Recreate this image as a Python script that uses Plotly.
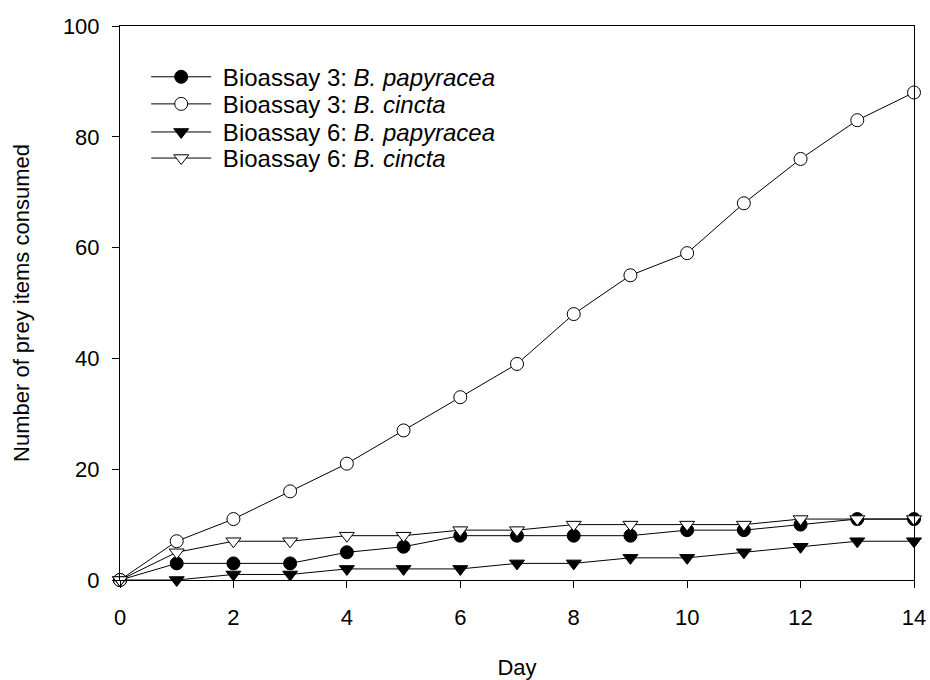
import plotly.graph_objects as go

days = list(range(15))
b3_papyracea = [0, 3, 3, 3, 5, 6, 8, 8, 8, 8, 9, 9, 10, 11, 11]
b3_cincta = [0, 7, 11, 16, 21, 27, 33, 39, 48, 55, 59, 68, 76, 83, 88]
b6_papyracea = [0, 0, 1, 1, 2, 2, 2, 3, 3, 4, 4, 5, 6, 7, 7]
b6_cincta = [0, 5, 7, 7, 8, 8, 9, 9, 10, 10, 10, 10, 11, 11, 11]

series = [
    ("Bioassay 3: <i>B. papyracea</i>", b3_papyracea, "circle", "black"),
    ("Bioassay 3: <i>B. cincta</i>", b3_cincta, "circle", "white"),
    ("Bioassay 6: <i>B. papyracea</i>", b6_papyracea, "triangle-down", "black"),
    ("Bioassay 6: <i>B. cincta</i>", b6_cincta, "triangle-down", "white"),
]
legend_rows_y = [0.9076, 0.8587, 0.8080, 0.7609]

font = dict(family="Liberation Sans, Arial, sans-serif", size=22, color="black")
lfont = dict(family="Liberation Sans, Arial, sans-serif", size=24, color="black")

fig = go.Figure()
layout_legends = {}
for i, (name, ys, sym, fill) in enumerate(series):
    key = "legend" if i == 0 else f"legend{i+1}"
    fig.add_trace(go.Scatter(
        x=days, y=ys, name="\u00a0" + name, mode="lines+markers",
        line=dict(color="black", width=1),
        marker=dict(symbol=sym, color=fill, size=13, line=dict(color="black", width=1)),
        cliponaxis=False, legend=key,
    ))
    layout_legends[key] = dict(x=0.033, y=legend_rows_y[i], xanchor="left", yanchor="middle",
                               bgcolor="rgba(0,0,0,0)", font=lfont, itemwidth=60)

fig.update_layout(
    width=930, height=680,
    margin=dict(l=120, r=16, t=26, b=100, autoexpand=False),
    paper_bgcolor="white", plot_bgcolor="white",
    font=font,
    showlegend=True,
    xaxis=dict(range=[0, 14], tickvals=list(range(0, 15, 2)),
               showline=True, linecolor="black", linewidth=1, mirror=True,
               ticks="outside", ticklen=7, tickcolor="black", showgrid=False,
               zeroline=False, ticklabelstandoff=11, automargin=False,
               title=dict(text="Day", font=font, standoff=30)),
    yaxis=dict(range=[0, 100], tickvals=list(range(0, 101, 20)),
               showline=True, linecolor="black", linewidth=1, mirror=True,
               ticks="outside", ticklen=7, tickcolor="black", showgrid=False,
               zeroline=False, ticklabelstandoff=8, automargin=False,
               title=dict(text="Number of prey items consumed", font=font, standoff=27)),
    **layout_legends,
)
fig.write_html("out.html")
